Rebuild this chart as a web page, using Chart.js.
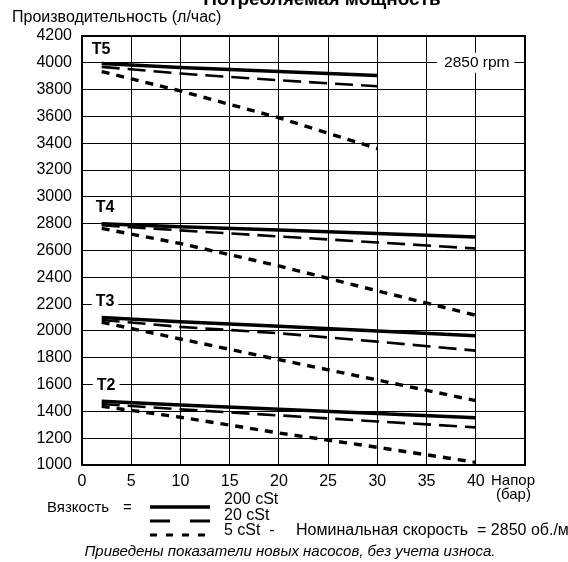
<!DOCTYPE html>
<html>
<head>
<meta charset="utf-8">
<script src="https://cdn.jsdelivr.net/npm/chart.js@4.4.1/dist/chart.umd.min.js"></script>
<style>
  html, body { margin: 0; padding: 0; background: #fff; }
  #wrap { width: 568px; height: 562px; position: relative; }
</style>
</head>
<body>
<div id="wrap"><canvas id="pumpChart" width="568" height="562"></canvas></div>
<script>
// head, bar
const headBar = [2, 10, 20, 30, 40];
const xTicks = [0, 5, 10, 15, 20, 25, 30, 35, 40];
const yTicks = [1000, 1200, 1400, 1600, 1800, 2000, 2200, 2400, 2600, 2800, 3000, 3200, 3400, 3600, 3800, 4000, 4200];

// flow, l/h  (200 cSt / 20 cSt / 5 cSt)
const t5Visc200 = [3995, 3965, 3935, 3905];
const t5Visc20 = [3970, 3920, 3870, 3825];
const t5Visc5 = [3935, 3790, 3590, 3360];

const t4Visc200 = [2800, 2778, 2752, 2727, 2700];
const t4Visc20 = [2788, 2750, 2705, 2660, 2615];
const t4Visc5 = [2765, 2652, 2485, 2299, 2117];

const t3Visc200 = [2100, 2068, 2035, 2000, 1965];
const t3Visc20 = [2082, 2030, 1983, 1920, 1853];
const t3Visc5 = [2065, 1940, 1786, 1634, 1480];

const t2Visc200 = [1475, 1447, 1415, 1385, 1353];
const t2Visc20 = [1455, 1415, 1370, 1325, 1281];
const t2Visc5 = [1438, 1356, 1239, 1132, 1020];

const pumpLabels = [
  { text: "T5", x: 1.0, y: 4100, box: false },
  { text: "T4", x: 1.4, y: 2920, box: false },
  { text: "T3", x: 1.4, y: 2220, box: true },
  { text: "T2", x: 1.5, y: 1590, box: true },
];

const FONT = "'Liberation Sans', Arial, Helvetica, sans-serif";

const styles = {
  v200: { borderWidth: 3.5, borderDash: [] },
  v20: { borderWidth: 2.6, borderDash: [18, 8] },
  v5: { borderWidth: 3.4, borderDash: [8, 7] },
};

function series(values, style) {
  return {
    data: values.map((v, i) => ({ x: headBar[i], y: v })),
    borderColor: "#000",
    backgroundColor: "#000",
    borderWidth: styles[style].borderWidth,
    borderDash: styles[style].borderDash,
    borderCapStyle: "butt",
    pointRadius: 0,
    tension: 0,
    fill: false,
  };
}

const datasets = [
  series(t5Visc200, "v200"), series(t5Visc20, "v20"), series(t5Visc5, "v5"),
  series(t4Visc200, "v200"), series(t4Visc20, "v20"), series(t4Visc5, "v5"),
  series(t3Visc200, "v200"), series(t3Visc20, "v20"), series(t3Visc5, "v5"),
  series(t2Visc200, "v200"), series(t2Visc20, "v20"), series(t2Visc5, "v5"),
];

// labels inside the plot (drawn after the grid, before the lines)
const insideText = {
  id: "insideText",
  beforeDatasetsDraw(chart) {
    const { ctx, scales } = chart;
    ctx.save();
    ctx.textBaseline = "middle";
    ctx.font = "bold 16px " + FONT;
    pumpLabels.forEach((p) => {
      const px = scales.x.getPixelForValue(p.x);
      const py = scales.y.getPixelForValue(p.y);
      const w = ctx.measureText(p.text).width;
      if (p.box) {
        ctx.fillStyle = "#fff";
        ctx.fillRect(px - 4, py - 9, w + 8, 18);
      }
      ctx.fillStyle = "#000";
      ctx.fillText(p.text, px, py);
    });
    ctx.font = "15.5px " + FONT;
    const rpm = "2850 rpm";
    const rw = ctx.measureText(rpm).width;
    const cx = scales.x.getPixelForValue(40);
    const cy = scales.y.getPixelForValue(4000);
    ctx.fillStyle = "#fff";
    ctx.fillRect(cx - rw / 2 - 6, cy - 10, rw + 12, 20);
    ctx.fillStyle = "#000";
    ctx.textAlign = "center";
    ctx.fillText(rpm, cx + 1, cy);
    ctx.restore();
  },
  afterDraw(chart) {
    const { ctx, chartArea: a } = chart;
    ctx.save();
    ctx.strokeStyle = "#000";
    ctx.lineWidth = 2;
    ctx.strokeRect(a.left, a.top, a.right - a.left, a.bottom - a.top);

    ctx.fillStyle = "#000";
    ctx.textBaseline = "middle";
    ctx.font = "bold 19px " + FONT;
    ctx.textAlign = "center";
    ctx.fillText("Потребляемая мощность", 322, 0);

    ctx.font = "16px " + FONT;
    ctx.textAlign = "left";
    ctx.fillText("Производительность (л/час)", 12, 18);
    ctx.font = "15px " + FONT;
    ctx.fillText("Напор", 491, 481);
    ctx.fillText("(бар)", 496, 495);

    // viscosity key
    ctx.fillText("Вязкость", 47, 508);
    ctx.fillText("=", 123, 508);
    ctx.font = "16px " + FONT;
    ctx.fillText("200 cSt", 224, 500);
    ctx.fillText("20 cSt", 224, 516);
    ctx.fillText("5 cSt  -", 224, 531);
    ctx.fillText("Номинальная скорость  = 2850 об./мин", 296, 531);

    const keys = [
      { y: 507, w: 3.5, dash: [] },
      { y: 521, w: 3, dash: [20, 20] },
      { y: 535, w: 3, dash: [7, 9] },
    ];
    keys.forEach((k) => {
      ctx.lineWidth = k.w;
      ctx.setLineDash(k.dash);
      ctx.lineCap = "butt";
      ctx.beginPath();
      ctx.moveTo(150, k.y);
      ctx.lineTo(210, k.y);
      ctx.stroke();
    });
    ctx.setLineDash([]);

    ctx.font = "italic 15px " + FONT;
    ctx.textAlign = "center";
    ctx.fillText("Приведены показатели новых насосов, без учета износа.", 290, 552);
    ctx.restore();
  },
};

new Chart(document.getElementById("pumpChart"), {
  type: "line",
  data: { datasets },
  options: {
    responsive: false,
    animation: false,
    layout: { padding: { top: 36, right: 43, left: 0, bottom: 0 } },
    plugins: {
      legend: { display: false },
      title: { display: false },
      tooltip: { enabled: false },
    },
    scales: {
      x: {
        type: "linear",
        min: 0,
        max: 45,
        afterFit: (scale) => { scale.height = 97; },
        afterBuildTicks: (scale) => {
          scale.ticks = xTicks.concat([45]).map((v) => ({ value: v }));
        },
        ticks: {
          color: "#000",
          font: { family: FONT, size: 16 },
          padding: 7,
          maxRotation: 0,
          autoSkip: false,
          callback: (v) => (v <= 40 ? String(v) : ""),
        },
        grid: { color: "#000", lineWidth: 1, drawTicks: false },
        border: { color: "#000", width: 2 },
      },
      y: {
        type: "linear",
        min: 1000,
        max: 4200,
        afterFit: (scale) => { scale.width = 82; },
        afterBuildTicks: (scale) => {
          scale.ticks = yTicks.map((v) => ({ value: v }));
        },
        ticks: {
          color: "#000",
          font: { family: FONT, size: 16 },
          padding: 10,
          autoSkip: false,
          callback: (v) => String(v),
        },
        grid: { color: "#000", lineWidth: 1, drawTicks: false },
        border: { color: "#000", width: 2 },
      },
    },
  },
  plugins: [insideText],
});
</script>
</body>
</html>
